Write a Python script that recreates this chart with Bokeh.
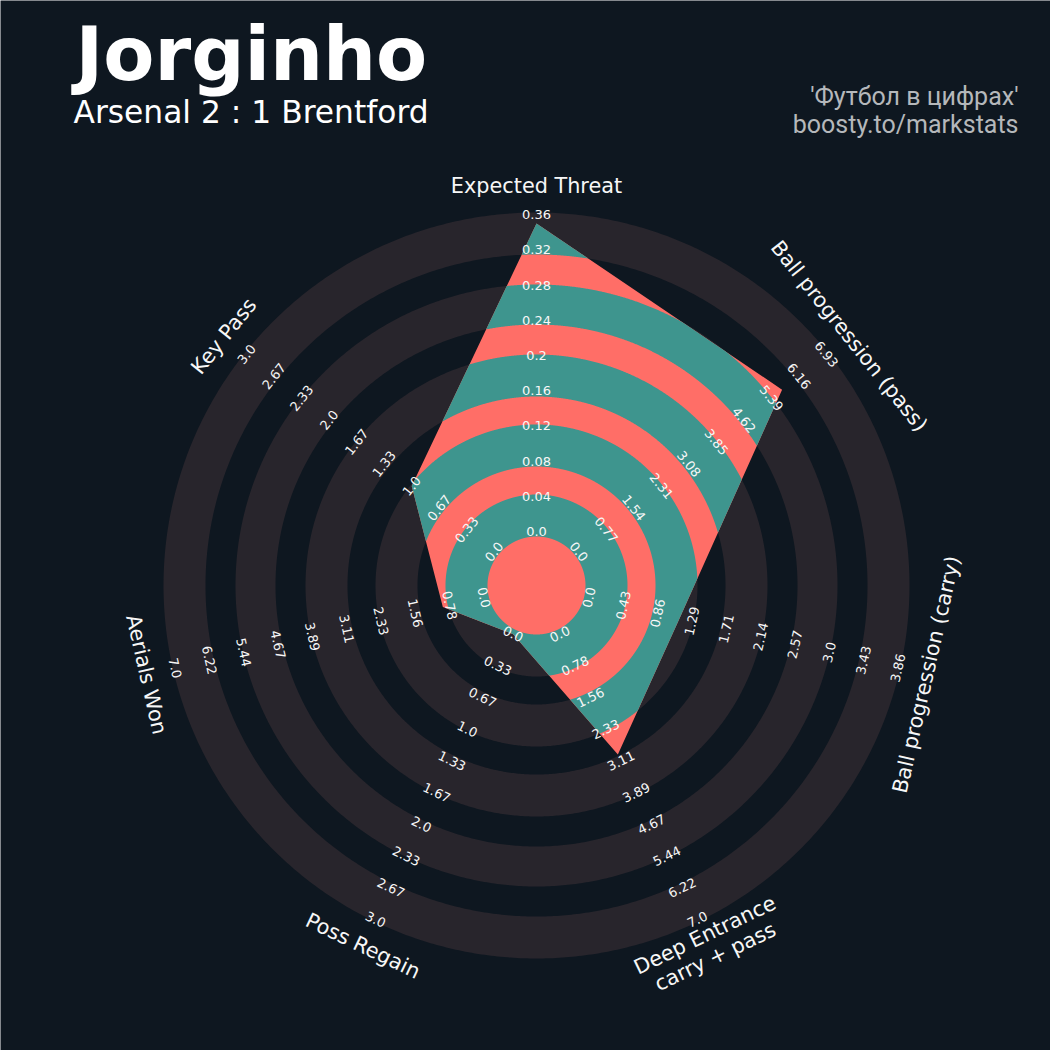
import numpy as np
from bokeh.plotting import figure
from bokeh.models import Range1d
from bokeh.embed import file_html
from bokeh.resources import INLINE
from bokeh.core.properties import value

# ---------------- data ----------------
params = ["Expected Threat", "Ball progression (pass)", "Ball progression (carry)",
          "Deep Entrance\ncarry + pass", "Poss Regain", "Aerials Won", "Key Pass"]
values = [0.35, 5.69, 1.13, 2.95, 0.0, 0.93, 1.0]
min_range = [0.0, 0.0, 0.0, 0.0, 0.0, 0.0, 0.0]
max_range = [0.36, 6.93, 3.857, 7.0, 3.0, 7.0, 3.0]
range_labels = [
    ["0.0", "0.04", "0.08", "0.12", "0.16", "0.2", "0.24", "0.28", "0.32", "0.36"],
    ["0.0", "0.77", "1.54", "2.31", "3.08", "3.85", "4.62", "5.39", "6.16", "6.93"],
    ["0.0", "0.43", "0.86", "1.29", "1.71", "2.14", "2.57", "3.0", "3.43", "3.86"],
    ["0.0", "0.78", "1.56", "2.33", "3.11", "3.89", "4.67", "5.44", "6.22", "7.0"],
    ["0.0", "0.33", "0.67", "1.0", "1.33", "1.67", "2.0", "2.33", "2.67", "3.0"],
    ["0.0", "0.78", "1.56", "2.33", "3.11", "3.89", "4.67", "5.44", "6.22", "7.0"],
    ["0.0", "0.33", "0.67", "1.0", "1.33", "1.67", "2.0", "2.33", "2.67", "3.0"],
]
title = "Jorginho"
subtitle = "Arsenal 2 : 1 Brentford"
credits = ["'Футбол в цифрах'", "boosty.to/markstats"]

# ---------------- style / geometry ----------------
BG = "#0e1720"
RING_GRAY = "#28252c"
RED = "#ff6e67"
TEAL = "#3e958e"
TXT = "#f7f7f7"
CREDIT = "#b5b8bb"
FONT = "DejaVu Sans"

R0 = 54.0          # radius of minimum value
SPAN = 316.8       # radius span min->max
BANDS = [(49, 91), (119, 161), (189, 231), (261, 301), (331, 373)]
PARAM_R = 400.0

W = H = 1050
p = figure(width=W, height=H, output_backend="svg", toolbar_location=None,
           x_range=Range1d(-536, 514), y_range=Range1d(-465, 585),
           background_fill_color=BG, border_fill_color=BG, min_border=0,
           outline_line_color=None)
p.axis.visible = False
p.grid.visible = False

n = len(params)
step = 2 * np.pi / n
ang = np.pi / 2 - np.arange(n) * step

# background rings
circ = np.linspace(0, 2 * np.pi, 721)
bg_xs, bg_ys = [], []
for r1, r2 in BANDS:
    bg_xs.append([[list(r2 * np.cos(circ)), list(r1 * np.cos(circ))]])
    bg_ys.append([[list(r2 * np.sin(circ)), list(r1 * np.sin(circ))]])
p.multi_polygons(xs=bg_xs, ys=bg_ys, fill_color=RING_GRAY, line_color=None)

# radar polygon
vals = np.array(values); mn = np.array(min_range); mx = np.array(max_range)
frac = (vals - mn) / (mx - mn)
rad = R0 + SPAN * frac
vx = rad * np.cos(ang)
vy = rad * np.sin(ang)
p.patch(x=list(vx), y=list(vy), fill_color=RED, line_color=None)

# rings clipped to polygon
M = n * 400
t = np.arange(M) / M * 2 * np.pi
th = np.pi / 2 - t
seg = np.minimum((t // step).astype(int), n - 1)
nxt = (seg + 1) % n
P1 = np.stack([vx[seg], vy[seg]], 1)
P2 = np.stack([vx[nxt], vy[nxt]], 1)
e = P2 - P1
d = np.stack([np.cos(th), np.sin(th)], 1)
cr = lambda a, b: a[:, 0] * b[:, 1] - a[:, 1] * b[:, 0]
rho = cr(P1, e) / cr(d, e)

ring_xs, ring_ys = [], []
for r1, r2 in BANDS:
    outer = np.minimum(rho, r2)
    inside = rho > r1
    if not inside.any():
        continue
    if inside.all():
        ring_xs.append([[list(outer * np.cos(th)), list(r1 * np.cos(th))]])
        ring_ys.append([[list(outer * np.sin(th)), list(r1 * np.sin(th))]])
        continue
    i0 = int(np.argmin(inside))
    idx = np.roll(np.arange(M), -i0)
    ins = inside[idx]
    j = 0
    while j < M:
        if ins[j]:
            k = j
            while k < M and ins[k]:
                k += 1
            run = idx[j:k]
            ox = list(outer[run] * np.cos(th[run])) + list((r1 * np.cos(th[run]))[::-1])
            oy = list(outer[run] * np.sin(th[run])) + list((r1 * np.sin(th[run]))[::-1])
            ring_xs.append([[ox]])
            ring_ys.append([[oy]])
            j = k
        else:
            j += 1
p.multi_polygons(xs=ring_xs, ys=ring_ys, fill_color=TEAL, line_color=None)


def text_rot(a):
    r = np.degrees(a) - 90
    r = (r + 180) % 360 - 180
    if r < -90:
        r += 180
    if r > 90:
        r -= 180
    return np.radians(r)


# range labels
lx, ly, lt, la = [], [], [], []
for i in range(n):
    rot = text_rot(ang[i])
    for k, lab in enumerate(range_labels[i]):
        rr = R0 + SPAN * k / (len(range_labels[i]) - 1)
        lx.append(rr * np.cos(ang[i])); ly.append(rr * np.sin(ang[i]))
        lt.append(lab); la.append(rot)
p.text(x=lx, y=ly, text=lt, angle=la, text_align="center", text_baseline="middle",
       text_font=value(FONT), text_font_size=value("13px"), text_color=TXT)

# parameter labels
px_, py_, pt_, pa_ = [], [], [], []
LINE = 24.0
for i in range(n):
    rot = text_rot(ang[i])
    lines = params[i].split("\n")
    cx, cy = PARAM_R * np.cos(ang[i]), PARAM_R * np.sin(ang[i])
    down = np.array([np.sin(rot), -np.cos(rot)])
    for j, ln in enumerate(lines):
        off = (j - (len(lines) - 1) / 2) * LINE
        px_.append(cx + down[0] * off); py_.append(cy + down[1] * off)
        pt_.append(ln); pa_.append(rot)
p.text(x=px_, y=py_, text=pt_, angle=pa_, text_align="center", text_baseline="middle",
       text_font=value(FONT), text_font_size=value("20.8px"), text_color=TXT)

# titles
p.text(x=[-461], y=[531], text=[title], text_align="left", text_baseline="middle",
       text_font=value(FONT), text_font_style="bold", text_font_size=value("74.5px"),
       text_color="#ffffff")
p.text(x=[-463], y=[473.5], text=[subtitle], text_align="left", text_baseline="middle",
       text_font=value(FONT), text_font_size=value("31.3px"), text_color="#ffffff")
p.text(x=[482, 482], y=[489.5, 461.5], text=credits, text_align="right",
       text_baseline="middle", text_font=value("Roboto"),
       text_font_size=value("25px"), text_color=CREDIT)

html = file_html(p, INLINE)
html = html.replace("<body>", '<body style="background-color:%s;margin:0;">' % BG, 1)
open("out.html", "w").write(html)
